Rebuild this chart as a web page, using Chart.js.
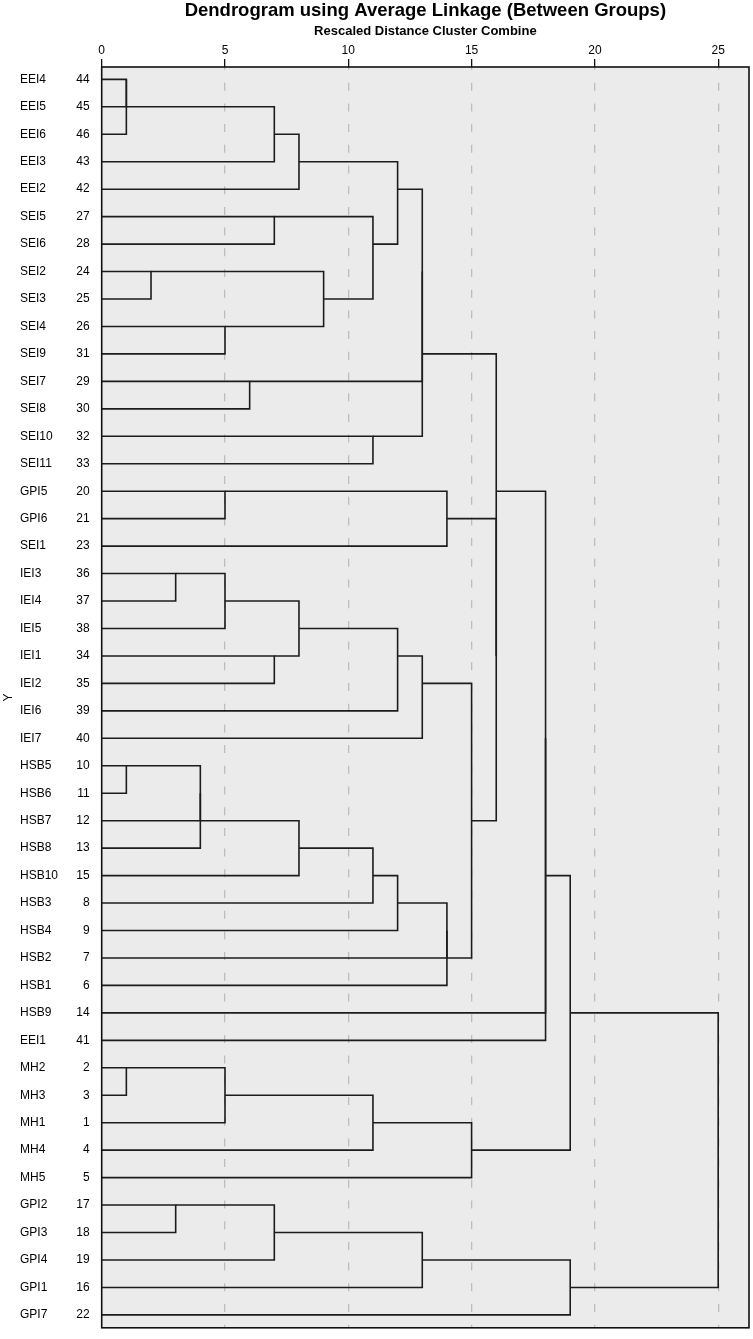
<!DOCTYPE html>
<html>
<head>
<meta charset="utf-8">
<script src="https://cdn.jsdelivr.net/npm/chart.js@4.4.1/dist/chart.umd.min.js"></script>
<style>
  html, body { margin: 0; padding: 0; background: #fff; }
  #wrap { width: 753px; height: 1339px; }
</style>
</head>
<body>
<div id="wrap"><canvas id="dendro"></canvas></div>
<script>
// leaves, top to bottom
const itemNames = ['EEI4', 'EEI5', 'EEI6', 'EEI3', 'EEI2', 'SEI5', 'SEI6', 'SEI2', 'SEI3', 'SEI4',
  'SEI9', 'SEI7', 'SEI8', 'SEI10', 'SEI11', 'GPI5', 'GPI6', 'SEI1', 'IEI3', 'IEI4',
  'IEI5', 'IEI1', 'IEI2', 'IEI6', 'IEI7', 'HSB5', 'HSB6', 'HSB7', 'HSB8', 'HSB10',
  'HSB3', 'HSB4', 'HSB2', 'HSB1', 'HSB9', 'EEI1', 'MH2', 'MH3', 'MH1', 'MH4',
  'MH5', 'GPI2', 'GPI3', 'GPI4', 'GPI1', 'GPI7'];
const caseNumbers = [44, 45, 46, 43, 42, 27, 28, 24, 25, 26,
  31, 29, 30, 32, 33, 20, 21, 23, 36, 37,
  38, 34, 35, 39, 40, 10, 11, 12, 13, 15,
  8, 9, 7, 6, 14, 41, 2, 3, 1, 4,
  5, 17, 18, 19, 16, 22];

// agglomeration steps: [cluster A, cluster B, rescaled distance]
// numbers are case numbers, 'mN' is the cluster made at step N
const merges = [
  [44, 45, 1], ['m0', 46, 1], ['m1', 43, 7], ['m2', 42, 8],
  [27, 28, 7], [24, 25, 2], [26, 31, 5], ['m5', 'm6', 9], ['m4', 'm7', 11], ['m3', 'm8', 12],
  [29, 30, 6], [32, 33, 11], ['m9', 'm10', 13], ['m12', 'm11', 13],
  [20, 21, 5], ['m14', 23, 14],
  [36, 37, 3], ['m16', 38, 5], [34, 35, 7], ['m17', 'm18', 8], ['m19', 39, 12], ['m20', 40, 13],
  [10, 11, 1], ['m22', 12, 4], ['m23', 13, 4], ['m24', 15, 8], ['m25', 8, 11], ['m26', 9, 12],
  ['m27', 7, 14], ['m28', 6, 14],
  ['m21', 'm29', 15], ['m15', 'm30', 16], ['m13', 'm31', 16],
  ['m32', 14, 18], ['m33', 41, 18],
  [2, 3, 1], ['m35', 1, 5], ['m36', 4, 11], ['m37', 5, 15],
  ['m34', 'm38', 19],
  [17, 18, 3], ['m40', 19, 7], ['m41', 16, 13], ['m42', 22, 19],
  ['m39', 'm43', 25]
];

const distanceTicks = [0, 5, 10, 15, 20, 25];

// dendrogram layout: each cluster sits on the row midway between its two children
const rowOfCase = {};
caseNumbers.forEach((c, i) => { rowOfCase[c] = i; });
const nodes = [];
function nodeOf(ref) {
  if (typeof ref === 'string') return nodes[Number(ref.slice(1))];
  return { row: rowOfCase[ref], height: 0 };
}
const links = merges.map(([a, b, d]) => {
  const na = nodeOf(a), nb = nodeOf(b);
  nodes.push({ row: Math.floor((na.row + nb.row) / 2), height: d });
  return [
    { x: na.height, y: na.row }, { x: d, y: na.row },
    { x: d, y: nb.row }, { x: nb.height, y: nb.row }
  ];
});

const rows = itemNames.map((_, i) => i);
const font = 'Arial, "Liberation Sans", Helvetica, sans-serif';
Chart.defaults.font.family = font;
Chart.defaults.color = '#000';

const plotFrame = {
  id: 'plotFrame',
  beforeDraw(chart) {
    const { ctx, chartArea: a } = chart;
    ctx.save();
    ctx.fillStyle = '#ebebeb';
    ctx.fillRect(a.left, a.top, a.width, a.height);
    ctx.restore();
  },
  afterDraw(chart) {
    const { ctx, chartArea: a } = chart;
    ctx.save();
    ctx.strokeStyle = '#111';
    ctx.lineWidth = 1.6;
    ctx.strokeRect(a.left, a.top, a.width, a.height);
    ctx.restore();
  }
};

const rowAxis = {
  type: 'linear',
  position: 'left',
  reverse: true,
  min: -0.45,
  max: 45.47,
  afterBuildTicks: s => { s.ticks = rows.map(v => ({ value: v })); },
  grid: { display: false },
  border: { display: false }
};

new Chart(document.getElementById('dendro'), {
  type: 'scatter',
  data: {
    datasets: links.map(pts => ({
      data: pts,
      showLine: true,
      borderColor: '#1c1c1c',
      borderWidth: 1.6,
      pointRadius: 0,
      fill: false,
      tension: 0
    }))
  },
  options: {
    responsive: true,
    maintainAspectRatio: false,
    animation: false,
    events: [],
    layout: { padding: { top: 0, right: 4, bottom: 3, left: 0 } },
    plugins: {
      legend: { display: false },
      tooltip: { enabled: false }
    },
    scales: {
      x: {
        type: 'linear',
        position: 'top',
        min: 0,
        max: 26.25,
        afterBuildTicks: s => { s.ticks = distanceTicks.map(v => ({ value: v })); },
        afterFit: s => { s.height = 46; },
        ticks: { font: { size: 12 }, padding: 1, maxRotation: 0 },
        title: {
          display: true,
          text: 'Rescaled Distance Cluster Combine',
          font: { size: 13, weight: 'bold' },
          padding: { top: 3, bottom: 0 }
        },
        grid: {
          color: c => (c.tick && c.tick.value === 0) ? 'rgba(0,0,0,0)' : '#bdbdbd',
          lineWidth: 1.3,
          tickColor: '#111',
          tickLength: 8,
          tickWidth: 1.3,
          tickBorderDash: []
        },
        border: { display: false, dash: [8, 12.7], dashOffset: 5 }
      },
      xHead: {
        type: 'linear',
        position: 'top',
        weight: 1,
        min: 0,
        max: 26.25,
        afterFit: s => { s.height = 21; },
        ticks: { display: false },
        grid: { display: false },
        border: { display: false },
        title: {
          display: true,
          text: 'Dendrogram using Average Linkage (Between Groups)',
          font: { size: 18.5, weight: 'bold', lineHeight: 1.15 },
          padding: { top: 0, bottom: 0 }
        }
      },
      y: Object.assign({}, rowAxis, {
        weight: 0,
        afterFit: s => { s.width = 30; },
        ticks: { font: { size: 12 }, padding: 4, callback: v => caseNumbers[v] }
      }),
      yName: Object.assign({}, rowAxis, {
        weight: 1,
        afterFit: s => { s.width = 51.7; },
        ticks: { font: { size: 12 }, crossAlign: 'far', callback: v => itemNames[v] }
      }),
      yHead: Object.assign({}, rowAxis, {
        weight: 2,
        afterFit: s => { s.width = 20; },
        ticks: { display: false },
        title: { display: true, text: 'Y', font: { size: 12 }, padding: { top: 1, bottom: 0 } }
      })
    }
  },
  plugins: [plotFrame]
});
</script>
</body>
</html>
